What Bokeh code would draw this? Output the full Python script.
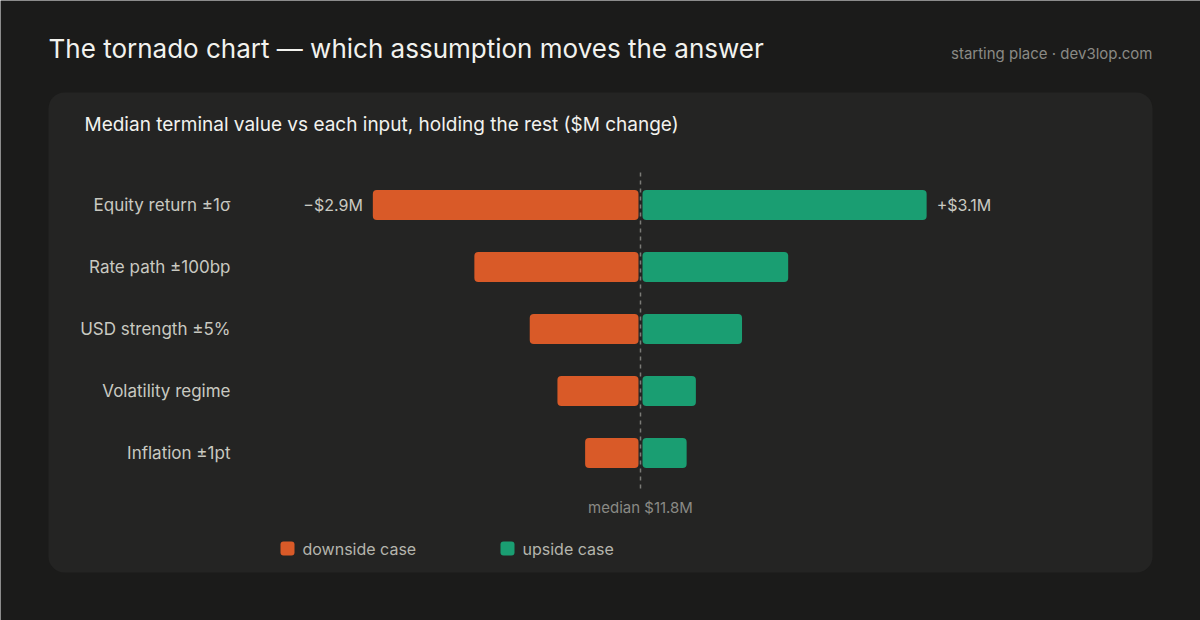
from bokeh.plotting import figure
from bokeh.models import Range1d, BoxAnnotation
from bokeh.core.properties import value
from bokeh.embed import file_html
from bokeh.resources import INLINE

# ---- data ----
inputs = ["Equity return ±1σ", "Rate path ±100bp", "USD strength ±5%", "Volatility regime", "Inflation ±1pt"]
downside = [2.9, 1.8, 1.2, 0.9, 0.6]   # $M below median
upside = [3.1, 1.6, 1.1, 0.6, 0.5]     # $M above median
down_labels = ["−$2.9M", "", "", "", ""]
up_labels = ["+$3.1M", "", "", "", ""]
median_label = "median $11.8M"
series_names = ["downside case", "upside case"]

# ---- layout constants ----
W, H = 1200, 620
CX = 640.0      # pixel of the median
PXM = 92.3      # pixels per $M
ROW0 = 204.5    # pixel of first row
ROWH = 62.0     # pixels per row

def px(xp):
    return (xp - CX) / PXM

def py(yp):
    return (yp - ROW0) / ROWH

BG = "#1b1b1a"
CARD = "#242423"
ORANGE = "#d95a28"
GREEN = "#1a9e72"
FONT = value("Inter")

p = figure(width=W, height=H, output_backend="svg", toolbar_location=None,
           x_range=Range1d(px(0), px(W)), y_range=Range1d(py(H), py(0)),
           min_border=0, min_border_left=0, min_border_right=0,
           min_border_top=0, min_border_bottom=0)
p.background_fill_color = BG
p.border_fill_color = BG
p.outline_line_color = None
p.axis.visible = False
p.grid.visible = False

# card
card = BoxAnnotation(left=px(48), right=px(1152), top=py(92), bottom=py(572),
                     fill_color=CARD, fill_alpha=1.0, line_color=None,
                     border_radius=16, level="underlay")
p.add_layout(card)

rows = list(range(len(inputs)))
gap = 2.0 / PXM
bar_h = 30.0 / ROWH

p.hbar(y=rows, left=[-d for d in downside], right=[-gap] * len(rows), height=bar_h,
       fill_color=ORANGE, line_color=None, border_radius=4)
p.hbar(y=rows, left=[gap] * len(rows), right=upside, height=bar_h,
       fill_color=GREEN, line_color=None, border_radius=4)

# median dashed line
p.segment(x0=[0], x1=[0], y0=[py(172)], y1=[py(490)], line_color="#7a7a76",
          line_width=1.5, line_dash="4 4")

# category labels
p.text(x=[px(230)] * len(rows), y=rows, text=inputs, text_font=FONT,
       text_font_size="17px", text_align="right", text_baseline="middle",
       text_color="#c9c9c1")

# value labels
p.text(x=[-d - 10.0 / PXM for d in downside], y=rows, text=down_labels, text_font=FONT,
       text_font_size="16px", text_align="right", text_baseline="middle", text_color="#c9c9c1")
p.text(x=[u + 10.0 / PXM for u in upside], y=rows, text=up_labels, text_font=FONT,
       text_font_size="16px", text_align="left", text_baseline="middle", text_color="#c9c9c1")

# median label
p.text(x=[0], y=[py(507)], text=[median_label], text_font=FONT, text_font_size="15px",
       text_align="center", text_baseline="middle", text_color="#8a8a85")

# titles
p.text(x=[px(48)], y=[py(48)], text=["The tornado chart — which assumption moves the answer"],
       text_font=FONT, text_font_size="26px", text_align="left", text_baseline="middle",
       text_color="#f2f2ee")
p.text(x=[px(1152)], y=[py(53)], text=["starting place · dev3lop.com"],
       text_font=FONT, text_font_size="15px", text_align="right", text_baseline="middle",
       text_color="#8a8a85")
p.text(x=[px(84)], y=[py(124)], text=["Median terminal value vs each input, holding the rest ($M change)"],
       text_font=FONT, text_font_size="19px", text_align="left", text_baseline="middle",
       text_color="#f2f2ee")

# legend
p.rect(x=[px(287), px(507)], y=[py(548), py(548)], width=14, height=14,
       width_units="screen", height_units="screen", fill_color=[ORANGE, GREEN],
       line_color=None, border_radius=3)
p.text(x=[px(302), px(522)], y=[py(548), py(548)], text=series_names, text_font=FONT,
       text_font_size="16px", text_align="left", text_baseline="middle", text_color="#b5b5ad")

open("out.html", "w").write(file_html(p, INLINE))
